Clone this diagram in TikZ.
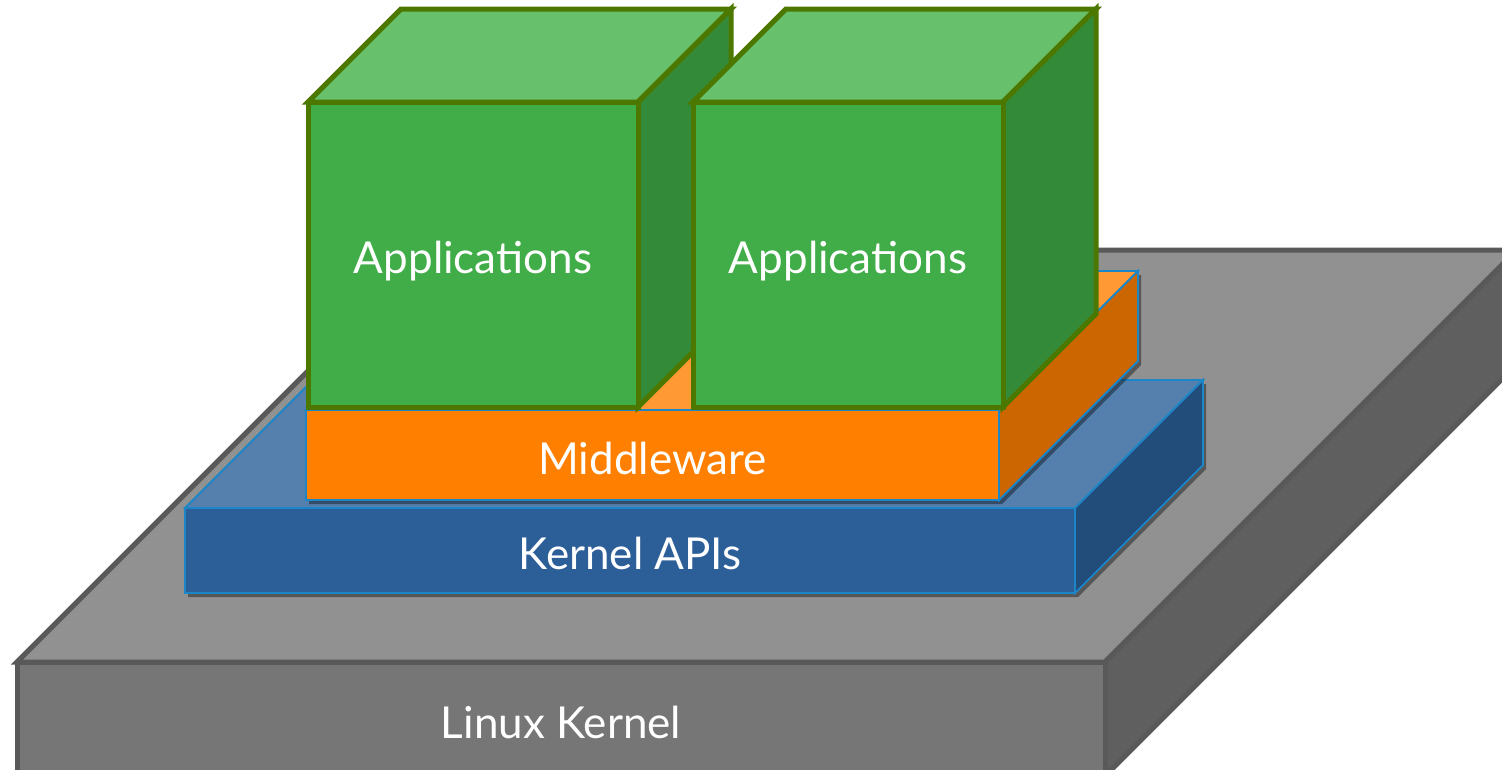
\documentclass[tikz,border=0pt]{standalone}
\usepackage{fontspec}
\setmainfont{Lato}
\usetikzlibrary{calc}
\definecolor{lkTop}{HTML}{919191}
\definecolor{lkFront}{HTML}{767676}
\definecolor{lkRight}{HTML}{5F5F5F}
\definecolor{lkLine}{HTML}{595959}
\definecolor{kaTop}{HTML}{557FAD}
\definecolor{kaFront}{HTML}{2C5E98}
\definecolor{kaRight}{HTML}{224C7A}
\definecolor{blueLine}{HTML}{1C86C6}
\definecolor{mwTop}{HTML}{FF9933}
\definecolor{mwFront}{HTML}{FF8000}
\definecolor{mwRight}{HTML}{CC6600}
\definecolor{apTop}{HTML}{66C06C}
\definecolor{apFront}{HTML}{41AD48}
\definecolor{apRight}{HTML}{338B3A}
\definecolor{apLine}{HTML}{4D7800}
\newcommand\isoslab[8]{%
  \coordinate (#1-a) at (#2,#3);
  \coordinate (#1-b) at (#4,#3);
  \coordinate (#1-c) at (#4,#5);
  \coordinate (#1-d) at (#2,#5);
  \coordinate (#1-e) at ({#2+#6},{#3-#6});
  \coordinate (#1-f) at ({#4+#6},{#3-#6});
  \coordinate (#1-g) at ({#4+#6},{#5-#6});
  \path[#7 shadow] ([shift={(3,4)}]#1-a) -- ([shift={(3,4)}]#1-e) -- ([shift={(3,4)}]#1-f) -- ([shift={(3,4)}]#1-g) -- ([shift={(3,4)}]#1-c) -- ([shift={(3,4)}]#1-d) -- cycle;
  \path[#7 top] (#1-a) -- (#1-b) -- (#1-f) -- (#1-e) -- cycle;
  \path[#7 right] (#1-b) -- (#1-f) -- (#1-g) -- (#1-c) -- cycle;
  \path[#7 front] (#1-a) rectangle (#1-c);
  \node[facetext] (#1) at ($(#1-a)!0.5!(#1-c)$) {#8};
}
\begin{document}
\begin{tikzpicture}[x=1pt,y=-1pt,line join=miter,
  facetext/.style={text=white, inner sep=0pt, outer sep=0pt, text height=31.5pt, text depth=0pt, yshift=-3.5pt, font=\fontsize{44}{52}\selectfont},
  lk shadow/.style={},
  lk top/.style={fill=lkTop, draw=lkLine, line width=5pt},
  lk right/.style={fill=lkRight, draw=lkLine, line width=5pt},
  lk front/.style={fill=lkFront, draw=lkLine, line width=5pt},
  ka shadow/.style={fill=black, fill opacity=0.4},
  ka top/.style={fill=kaTop, draw=blueLine, line width=1.8pt},
  ka right/.style={fill=kaRight, draw=blueLine, line width=1.8pt},
  ka front/.style={fill=kaFront, draw=blueLine, line width=1.8pt},
  mw shadow/.style={fill=black, fill opacity=0.4},
  mw top/.style={fill=mwTop, draw=blueLine, line width=1.8pt},
  mw right/.style={fill=mwRight, draw=blueLine, line width=1.8pt},
  mw front/.style={fill=mwFront, draw=blueLine, line width=1.8pt},
  ap shadow/.style={},
  ap top/.style={fill=apTop, draw=apLine, line width=5pt},
  ap right/.style={fill=apRight, draw=apLine, line width=5pt},
  ap front/.style={fill=apFront, draw=apLine, line width=5pt},
]
\useasboundingbox (0,0) rectangle (1502,769);
\clip (0,0) rectangle (1502,769);
\fill[white] (0,0) rectangle (1502,769);
\isoslab{linux}{17}{662}{1105}{776}{412}{lk}{Linux Kernel}
\isoslab{kapi}{185}{508}{1075}{593}{128}{ka}{Kernel APIs}
\isoslab{mware}{306}{410}{999}{500}{139}{mw}{Middleware}
\isoslab{appA}{308}{102}{638}{407}{93}{ap}{Applications}
\isoslab{appB}{693}{102}{1003}{407}{93}{ap}{Applications}
\end{tikzpicture}
\end{document}
